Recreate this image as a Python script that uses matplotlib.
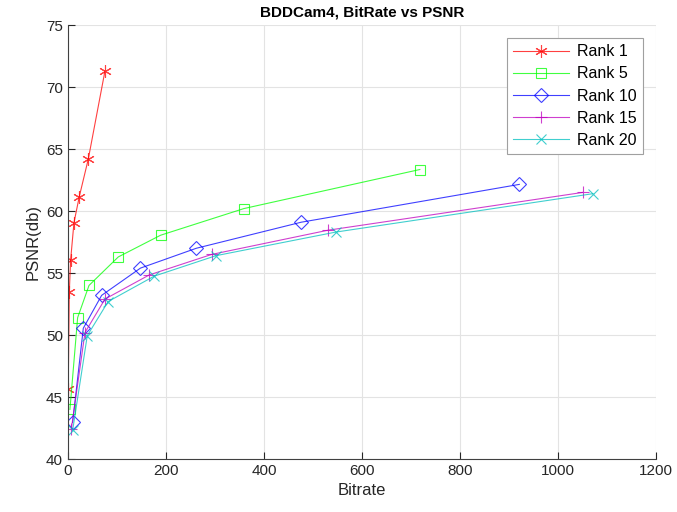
import numpy as np
import matplotlib
matplotlib.use("Agg")
import matplotlib.pyplot as plt

plt.rcParams['font.family'] = ['Liberation Sans', 'DejaVu Sans']

# bitrate / psnr
rank1_x = [0.5, 2.7, 5.4, 12.2, 23, 41.5, 75.5]
rank1_y = [45.65, 53.45, 56.05, 59.05, 61.15, 64.2, 71.3]
rank5_x = [4, 19.7, 42.9, 102.7, 189, 359, 718]
rank5_y = [44.0, 51.4, 54.0, 56.3, 58.05, 60.2, 63.35]
rank10_x = [9.5, 31.3, 68.7, 148, 262, 476, 921]
rank10_y = [42.95, 50.55, 53.2, 55.4, 57.0, 59.1, 62.15]
rank15_x = [6.8, 34.7, 75.5, 166, 293, 530, 1050]
rank15_y = [42.4, 50.2, 52.9, 54.85, 56.5, 58.45, 61.5]
rank20_x = [9.5, 39.4, 82, 176, 302, 546, 1071]
rank20_y = [42.3, 49.95, 52.7, 54.75, 56.4, 58.3, 61.4]

asterisk = (6, 2, 0)
series = [
    ("Rank 1", rank1_x, rank1_y, "r", asterisk, 9),
    ("Rank 5", rank5_x, rank5_y, "#00ff00", "s", 7),
    ("Rank 10", rank10_x, rank10_y, "b", "D", 7),
    ("Rank 15", rank15_x, rank15_y, "m", "+", 9),
    ("Rank 20", rank20_x, rank20_y, "c", "x", 7),
]

fig = plt.figure(figsize=(6.77, 5.12), dpi=100)
ax = fig.add_axes([0.1004, 0.1035, 0.8686, 0.8475])

for label, xs, ys, col, mk, ms in series:
    ax.plot(xs, ys, color=col, marker=mk, markersize=ms, linewidth=0.8,
            markerfacecolor="none", markeredgecolor=col,
            markeredgewidth=0.8, label=label, alpha=0.75)

ax.set_xlim(0, 1200)
ax.set_ylim(40, 75)
ax.set_xticks(np.arange(0, 1201, 200))
ax.set_yticks(np.arange(40, 76, 5))
ax.grid(True, color="#e3e3e3", linewidth=0.8)
ax.set_axisbelow(True)
for s in ["top", "right"]:
    ax.spines[s].set_visible(False)
for s in ["left", "bottom"]:
    ax.spines[s].set_color("#404040")
    ax.spines[s].set_linewidth(0.8)
ax.tick_params(direction="in", length=5, labelsize=11, colors="#262626")

ax.set_xlabel("Bitrate", fontsize=12, color="#262626")
ax.set_ylabel("PSNR(db)", fontsize=12, color="#262626")
ax.set_title("BDDCam4, BitRate vs PSNR", fontsize=11, fontweight="bold", pad=6)

leg = ax.legend(loc="upper right", fontsize=11.5, fancybox=False, framealpha=1,
                edgecolor="#a0a0a0", borderaxespad=0.8, handlelength=3.5,
                handletextpad=0.5, labelspacing=0.45)
leg.get_frame().set_linewidth(0.8)

fig.savefig("out.png", dpi=100)
